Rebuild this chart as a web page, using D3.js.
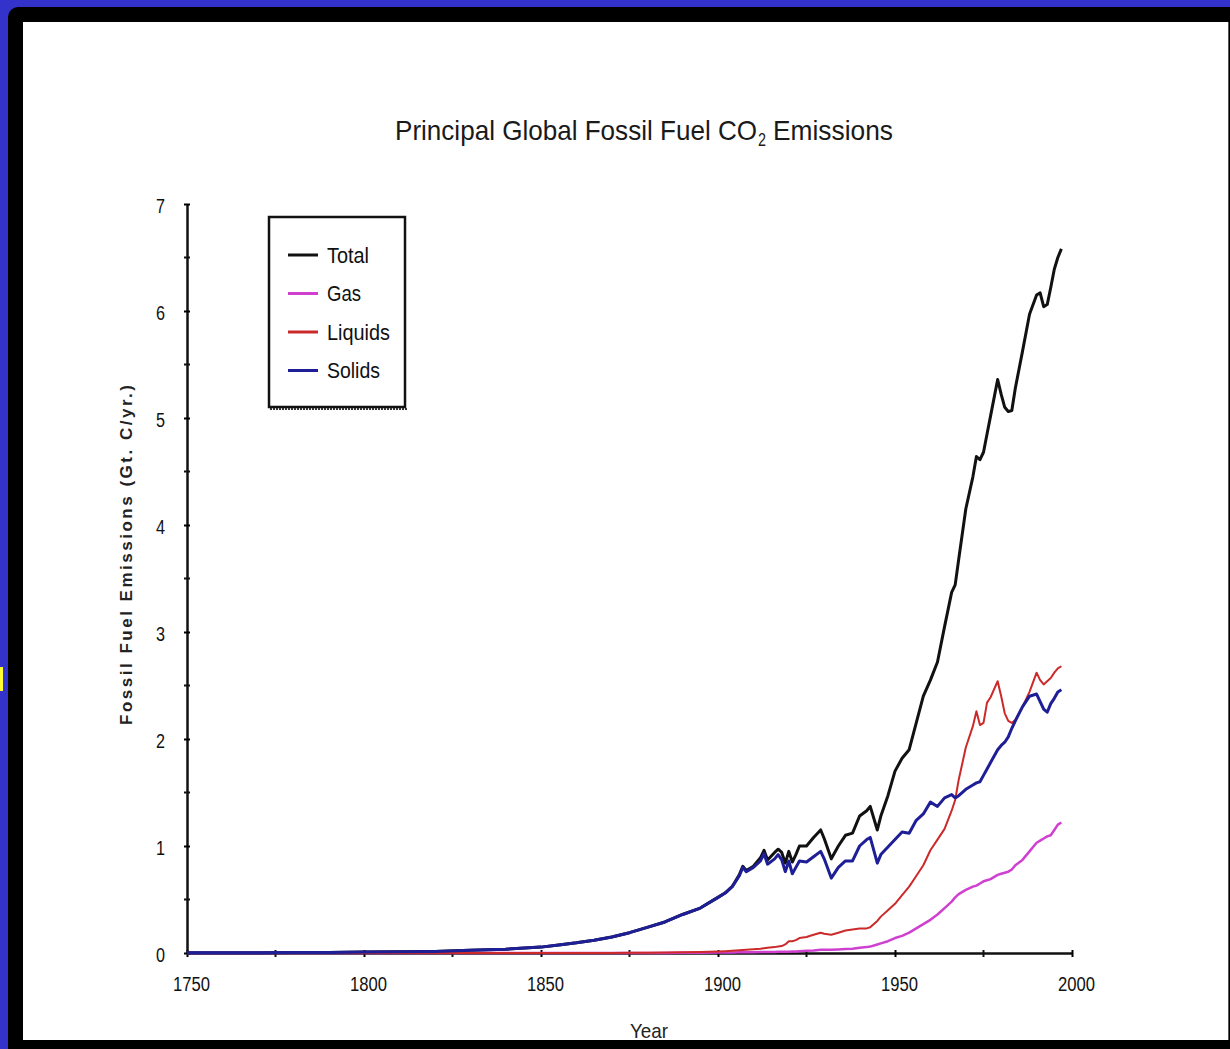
<html>
<head>
<style>
body {
  margin: 0;
  background: #3333cc;
}
svg {
  display: block;
}
.tick text {
  font-family: "Liberation Sans", Arial, sans-serif;
  font-size: 20px;
  fill: #111;
}
</style>
</head>
<body>
<script src="https://cdnjs.cloudflare.com/ajax/libs/d3/7.8.5/d3.min.js"></script>
<script>
var years = [1750, 1760, 1770, 1780, 1790, 1800, 1810, 1820, 1830, 1840, 1850, 1855, 1860, 1865, 1870,
  1875, 1880, 1885, 1890, 1895, 1900, 1902, 1904, 1906, 1907, 1908, 1910, 1912, 1913, 1914, 1916,
  1917, 1918, 1919, 1920, 1921, 1922, 1923, 1925, 1927, 1929, 1930, 1932, 1934, 1936, 1938, 1940,
  1942, 1943, 1945, 1946, 1948, 1950, 1952, 1954, 1956, 1958, 1960, 1962, 1964, 1966, 1967, 1968,
  1970, 1972, 1973, 1974, 1975, 1976, 1977, 1979, 1980, 1981, 1982, 1983, 1984, 1986, 1988, 1990,
  1991, 1992, 1993, 1994, 1995, 1996, 1997]

var total = [0.003, 0.003, 0.003, 0.004, 0.005, 0.009, 0.012, 0.015, 0.025, 0.035, 0.055, 0.075, 0.095, 0.12, 0.15,
  0.19, 0.24, 0.29, 0.36, 0.42, 0.52, 0.56, 0.62, 0.73, 0.81, 0.77, 0.81, 0.89, 0.96, 0.87, 0.94,
  0.97, 0.94, 0.84, 0.95, 0.85, 0.92, 1.00, 1.00, 1.08, 1.15, 1.07, 0.88, 1.00, 1.10, 1.12, 1.28,
  1.33, 1.37, 1.15, 1.28, 1.47, 1.70, 1.82, 1.90, 2.15, 2.40, 2.55, 2.72, 3.05, 3.37, 3.44, 3.68,
  4.15, 4.45, 4.64, 4.61, 4.68, 4.85, 5.02, 5.36, 5.22, 5.10, 5.06, 5.07, 5.28, 5.62, 5.97, 6.15,
  6.17, 6.04, 6.06, 6.22, 6.39, 6.50, 6.58]

var gas = [0, 0, 0, 0, 0, 0, 0, 0, 0, 0, 0, 0, 0, 0, 0,
  0, 0, 0.001, 0.002, 0.003, 0.004, 0.004, 0.005, 0.006, 0.006, 0.007, 0.008, 0.009, 0.009, 0.010, 0.010,
  0.011, 0.011, 0.012, 0.012, 0.013, 0.014, 0.016, 0.02, 0.024, 0.03, 0.03, 0.03, 0.033, 0.037, 0.04, 0.05,
  0.055, 0.06, 0.08, 0.09, 0.11, 0.14, 0.16, 0.19, 0.23, 0.27, 0.31, 0.36, 0.42, 0.48, 0.52, 0.55,
  0.59, 0.62, 0.63, 0.65, 0.67, 0.68, 0.69, 0.73, 0.74, 0.75, 0.76, 0.78, 0.82, 0.87, 0.95, 1.03,
  1.05, 1.07, 1.09, 1.10, 1.15, 1.20, 1.22]

var liquids = [0, 0, 0, 0, 0, 0, 0, 0, 0, 0, 0, 0, 0, 0, 0.001,
  0.002, 0.003, 0.004, 0.006, 0.009, 0.013, 0.016, 0.02, 0.025, 0.028, 0.03, 0.035, 0.04, 0.045, 0.05, 0.055,
  0.06, 0.065, 0.08, 0.11, 0.11, 0.12, 0.14, 0.15, 0.17, 0.19, 0.18, 0.17, 0.19, 0.21, 0.22, 0.23,
  0.23, 0.24, 0.30, 0.34, 0.40, 0.46, 0.54, 0.62, 0.72, 0.82, 0.96, 1.06, 1.16, 1.33, 1.43, 1.62,
  1.92, 2.12, 2.26, 2.13, 2.15, 2.34, 2.39, 2.54, 2.40, 2.24, 2.17, 2.15, 2.18, 2.30, 2.44, 2.62,
  2.55, 2.51, 2.54, 2.57, 2.62, 2.66, 2.68]

var solids = [0.003, 0.003, 0.003, 0.004, 0.005, 0.009, 0.012, 0.015, 0.025, 0.035, 0.055, 0.075, 0.095, 0.12, 0.15,
  0.19, 0.24, 0.29, 0.36, 0.42, 0.52, 0.56, 0.62, 0.72, 0.80, 0.76, 0.80, 0.86, 0.93, 0.83, 0.88,
  0.92, 0.87, 0.76, 0.86, 0.74, 0.80, 0.86, 0.85, 0.90, 0.95, 0.88, 0.70, 0.80, 0.86, 0.86, 1.00,
  1.06, 1.08, 0.84, 0.92, 0.99, 1.06, 1.13, 1.12, 1.24, 1.30, 1.41, 1.37, 1.45, 1.48, 1.45, 1.47,
  1.53, 1.57, 1.59, 1.60, 1.66, 1.72, 1.78, 1.90, 1.94, 1.97, 2.02, 2.10, 2.17, 2.30, 2.40, 2.42,
  2.35, 2.28, 2.25, 2.33, 2.38, 2.44, 2.46]

var seriesNames = ["Total", "Gas", "Liquids", "Solids"]
var seriesValues = [total, gas, liquids, solids]
var seriesColors = ["#111111", "#d040d0", "#cc2a2a", "#1e1e96"]
var seriesWidths = [3, 2.5, 2, 3]

var xTicks = [1750, 1800, 1850, 1900, 1950, 2000]
var xMinor = [1775, 1825, 1875, 1925, 1975]
var yTicks = [0, 1, 2, 3, 4, 5, 6, 7]
var yMinor = [0.5, 1.5, 2.5, 3.5, 4.5, 5.5, 6.5]

var width = 1230,
    height = 1049;

var svg = d3.select("body")
  .append("svg")
  .attr("width", width)
  .attr("height", height)

// slide frame
svg.append("rect").attr("x", 0).attr("y", 0).attr("width", width).attr("height", height).attr("fill", "#3333cc")
svg.append("rect").attr("x", 8).attr("y", 7).attr("width", 1240).attr("height", 1060).attr("rx", 10).attr("fill", "#000")
svg.append("rect").attr("x", 23).attr("y", 22).attr("width", 1205).attr("height", 1018).attr("fill", "#fff")
svg.append("line").attr("x1", 1228.5).attr("x2", 1228.5).attr("y1", 22).attr("y2", 1040).attr("stroke", "#555").attr("stroke-width", 1)
svg.append("rect").attr("x", 0).attr("y", 667).attr("width", 3).attr("height", 24).attr("fill", "#ffff33")

var x = d3.scaleLinear().domain([1750, 2000]).range([187, 1072])
var y = d3.scaleLinear().domain([0, 7]).range([953, 204])

var sans = '"Liberation Sans", Arial, sans-serif'

// title, squeezed to look like a narrow face (three pieces so the subscript sits clear)
var titleParts = [
  { text: "Principal Global Fossil Fuel CO", x: 395, y: 140, len: 362, size: 28 },
  { text: "2", x: 758, y: 146, len: 8, size: 18 },
  { text: "Emissions", x: 773, y: 140, len: 120, size: 28 }
]
svg.append("g").selectAll("text")
  .data(titleParts)
  .enter().append("text")
  .attr("x", function(d) { return d.x })
  .attr("y", function(d) { return d.y })
  .attr("textLength", function(d) { return d.len })
  .attr("lengthAdjust", "spacingAndGlyphs")
  .style("font-family", sans)
  .style("font-size", function(d) { return d.size + "px" })
  .attr("fill", "#1a1a1a")
  .text(function(d) { return d.text })

// y axis title
svg.append("text")
  .attr("transform", "translate(132 555) rotate(-90)")
  .attr("text-anchor", "middle")
  .style("font-family", sans)
  .style("font-weight", "bold")
  .style("font-size", "17px")
  .attr("textLength", 340)
  .attr("fill", "#222")
  .text("Fossil Fuel Emissions (Gt. C/yr.)")

svg.append("text")
  .attr("x", 649)
  .attr("y", 1038)
  .attr("text-anchor", "middle")
  .attr("textLength", 38)
  .attr("lengthAdjust", "spacingAndGlyphs")
  .style("font-family", sans)
  .style("font-size", "21px")
  .attr("fill", "#222")
  .text("Year")

// axes
var xAxis = svg.append("g")
  .attr("transform", "translate(0 953)")
  .call(d3.axisBottom(x).tickValues(xTicks).tickFormat(d3.format("d")).tickSize(4).tickSizeOuter(0).tickPadding(20))
xAxis.select(".domain").attr("stroke-width", 2.5).attr("stroke", "#111")
xAxis.selectAll(".tick line").attr("y1", -3).attr("stroke-width", 2)
xAxis.selectAll(".tick text")
  .attr("dx", 4)
  .attr("textLength", 37)
  .attr("lengthAdjust", "spacingAndGlyphs")

svg.append("g").selectAll("line")
  .data(xMinor)
  .enter().append("line")
  .attr("x1", function(d) { return x(d) })
  .attr("x2", function(d) { return x(d) })
  .attr("y1", 950)
  .attr("y2", 957)
  .attr("stroke", "#111")
  .attr("stroke-width", 2)

var yAxis = svg.append("g")
  .attr("transform", "translate(187 0)")
  .call(d3.axisLeft(y).tickValues(yTicks).tickFormat(d3.format("d")).tickSize(3).tickSizeOuter(0).tickPadding(19))
yAxis.select(".domain").attr("stroke-width", 2.5).attr("stroke", "#111")
yAxis.selectAll(".tick line").attr("x1", 3).attr("stroke-width", 2)
yAxis.selectAll(".tick text")
  .attr("dy", "0.4em")
  .attr("textLength", 9)
  .attr("lengthAdjust", "spacingAndGlyphs")

svg.append("g").selectAll("line")
  .data(yMinor)
  .enter().append("line")
  .attr("x1", 184)
  .attr("x2", 190)
  .attr("y1", function(d) { return y(d) })
  .attr("y2", function(d) { return y(d) })
  .attr("stroke", "#111")
  .attr("stroke-width", 2)

// lines
var line = d3.line()
  .x(function(d, i) { return x(years[i]) })
  .y(function(d) { return y(d) })

svg.append("g").selectAll("path")
  .data(seriesValues)
  .enter().append("path")
  .attr("d", function(d) { return line(d) })
  .attr("fill", "none")
  .attr("stroke", function(d, i) { return seriesColors[i] })
  .attr("stroke-width", function(d, i) { return seriesWidths[i] })
  .attr("stroke-linejoin", "round")

// legend
var legend = svg.append("g")
legend.append("rect")
  .attr("x", 269)
  .attr("y", 217)
  .attr("width", 136)
  .attr("height", 190)
  .attr("fill", "#fff")
  .attr("stroke", "#111")
  .attr("stroke-width", 2.5)
legend.append("line").attr("x1", 270).attr("x2", 407).attr("y1", 409).attr("y2", 409)
  .attr("stroke", "#333").attr("stroke-width", 2).attr("stroke-dasharray", "2 1")

var legendWidths = [42, 34, 63, 53]

var items = legend.selectAll("g.item")
  .data(seriesNames)
  .enter().append("g")
  .attr("class", "item")
  .attr("transform", function(d, i) { return "translate(288 " + (255 + i * 38.5) + ")" })

items.append("line")
  .attr("x1", 0)
  .attr("x2", 30)
  .attr("stroke", function(d, i) { return seriesColors[i] })
  .attr("stroke-width", 3)

items.append("text")
  .attr("x", 39)
  .attr("dy", "0.36em")
  .attr("textLength", function(d, i) { return legendWidths[i] })
  .attr("lengthAdjust", "spacingAndGlyphs")
  .style("font-family", sans)
  .style("font-size", "22px")
  .attr("fill", "#111")
  .text(function(d) { return d })
</script>
</body>
</html>
